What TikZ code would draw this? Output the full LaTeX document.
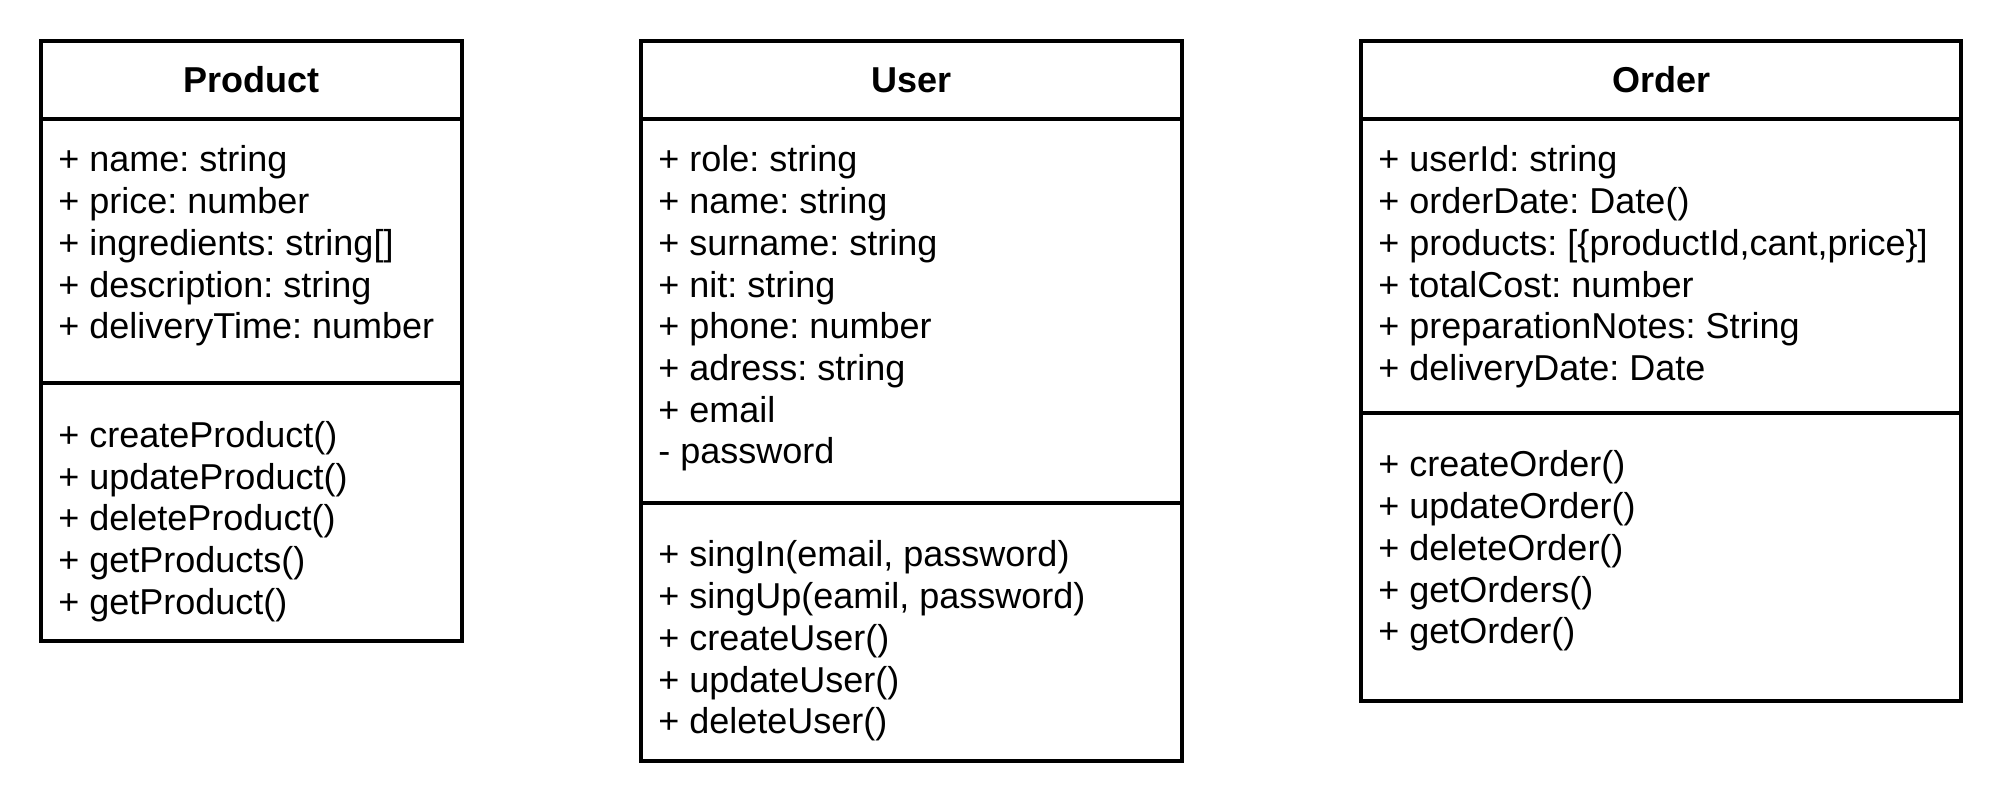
\documentclass[tikz,border=0pt]{standalone}
\usepackage{fontspec}
\setmainfont{Liberation Sans}
\frenchspacing
\begin{document}
\begin{tikzpicture}[x=0.5pt,y=-0.5pt,
  frame/.style={draw=black,line width=1.6pt},
  sep/.style={draw=black,line width=1.6pt},
  title/.style={anchor=base,inner sep=0pt,font=\fontsize{18pt}{21pt}\selectfont\bfseries},
  txt/.style={anchor=base west,inner sep=0pt,font=\fontsize{18pt}{21pt}\selectfont}]
\fill[white] (0,0) rectangle (2003,812);
\useasboundingbox (0,0) rectangle (2003,812);

% ---------- Product ----------
\draw[frame] (41,41) rectangle (462,641);
\draw[sep] (41,119) -- (462,119);
\draw[sep] (41,383) -- (462,383);
\node[title] (ptitle) at (251.5,93) {Product};
\node[txt] (pa1) at (58,172.0) {+ name: string};
\node[txt] (pa2) at (58,213.7) {+ price: number};
\node[txt] (pa3) at (58,255.4) {+ ingredients: string[]};
\node[txt] (pa4) at (58,297.1) {+ description: string};
\node[txt] (pa5) at (58,338.8) {+ deliveryTime: number};
\node[txt] (pm1) at (58,447.3) {+ createProduct()};
\node[txt] (pm2) at (58,489.0) {+ updateProduct()};
\node[txt] (pm3) at (58,530.7) {+ deleteProduct()};
\node[txt] (pm4) at (58,572.4) {+ getProducts()};
\node[txt] (pm5) at (58,614.1) {+ getProduct()};

% ---------- User ----------
\draw[frame] (641,41) rectangle (1182,761);
\draw[sep] (641,119) -- (1182,119);
\draw[sep] (641,503) -- (1182,503);
\node[title] (utitle) at (911.5,93) {User};
\node[txt] (ua1) at (658,172.0) {+ role: string};
\node[txt] (ua2) at (658,213.7) {+ name: string};
\node[txt] (ua3) at (658,255.4) {+ surname: string};
\node[txt] (ua4) at (658,297.1) {+ nit: string};
\node[txt] (ua5) at (658,338.8) {+ phone: number};
\node[txt] (ua6) at (658,380.5) {+ adress: string};
\node[txt] (ua7) at (658,422.2) {+ email};
\node[txt] (ua8) at (658,463.9) {- password};
\node[txt] (um1) at (658,567.0) {+ singIn(email, password)};
\node[txt] (um2) at (658,608.7) {+ singUp(eamil, password)};
\node[txt] (um3) at (658,650.4) {+ createUser()};
\node[txt] (um4) at (658,692.1) {+ updateUser()};
\node[txt] (um5) at (658,733.8) {+ deleteUser()};

% ---------- Order ----------
\draw[frame] (1361,41) rectangle (1961,701);
\draw[sep] (1361,119) -- (1961,119);
\draw[sep] (1361,413) -- (1961,413);
\node[title] (otitle) at (1661,93) {Order};
\node[txt] (oa1) at (1378,172.0) {+ userId: string};
\node[txt] (oa2) at (1378,213.7) {+ orderDate: Date()};
\node[txt] (oa3) at (1378,255.4) {+ products: [\{productId,cant,price\}]};
\node[txt] (oa4) at (1378,297.1) {+ totalCost: number};
\node[txt] (oa5) at (1378,338.8) {+ preparationNotes: String};
\node[txt] (oa6) at (1378,380.5) {+ deliveryDate: Date};
\node[txt] (om1) at (1378,477.0) {+ createOrder()};
\node[txt] (om2) at (1378,518.7) {+ updateOrder()};
\node[txt] (om3) at (1378,560.4) {+ deleteOrder()};
\node[txt] (om4) at (1378,602.1) {+ getOrders()};
\node[txt] (om5) at (1378,643.8) {+ getOrder()};
\end{tikzpicture}
\end{document}
